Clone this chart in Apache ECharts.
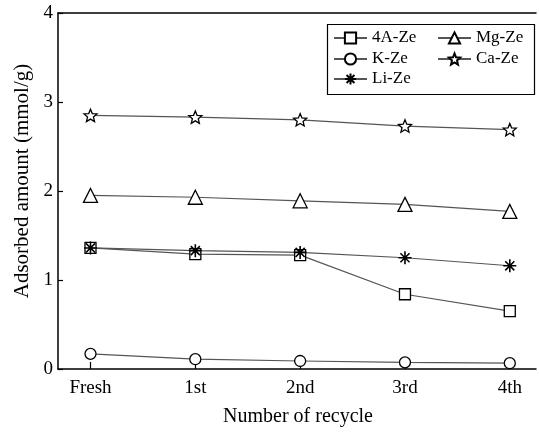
<!DOCTYPE html>
<html>
<head>
<meta charset="utf-8">
<script src="https://cdn.jsdelivr.net/npm/echarts@6/dist/echarts.min.js"></script>
<style>html,body{margin:0;padding:0;background:#fff}#c{width:539px;height:433px}</style>
</head>
<body>
<div id="c"></div>
<script>
const categories = ['Fresh', '1st', '2nd', '3rd', '4th'];
const seriesNames = ['4A-Ze', 'K-Ze', 'Li-Ze', 'Mg-Ze', 'Ca-Ze'];
const ze4A = [1.36, 1.29, 1.28, 0.84, 0.65];
const zeK = [0.17, 0.11, 0.09, 0.075, 0.065];
const zeLi = [1.36, 1.33, 1.31, 1.25, 1.16];
const zeMg = [1.95, 1.93, 1.89, 1.85, 1.77];
const zeCa = [2.85, 2.83, 2.80, 2.73, 2.69];
const yTicks = [0, 1, 2, 3, 4];

const FONT = 'Liberation Serif';
const STAR = 'path://M100,0L126,64L195,69L143,114L159,181L100,145L41,181L57,114L5,69L74,64Z';
const AST = 'path://M50,0L50,100M0,50L100,50M15,15L85,85M85,15L15,85';

const values = [ze4A, zeK, zeLi, zeMg, zeCa];
const symbols = ['rect', 'circle', AST, 'triangle', STAR];
const sizes = [11, 11, 13, 14, 13];

const chart = echarts.init(document.getElementById('c'), null, {renderer: 'canvas'});

const series = seriesNames.map((n, i) => ({
  name: n,
  type: 'line',
  data: values[i].map((v, j) => [j, v]),
  symbol: symbols[i],
  symbolSize: sizes[i],
  symbolKeepAspect: true,
  showAllSymbol: true,
  lineStyle: {color: '#555', width: 1.2},
  itemStyle: {color: '#fff', borderColor: '#000', borderWidth: i === 2 ? 1.6 : 1.3},
  z: 3 + i,
  animation: false
}));

const legendPos = [
  {name: '4A-Ze', left: 333, cy: 38},
  {name: 'K-Ze', left: 333, cy: 59},
  {name: 'Li-Ze', left: 333, cy: 79},
  {name: 'Mg-Ze', left: 437, cy: 38},
  {name: 'Ca-Ze', left: 437, cy: 59}
];

chart.setOption({
  animation: false,
  grid: {left: 58, top: 13, right: 3, bottom: 64, containLabel: false},
  xAxis: [{
    type: 'value', min: -0.31, max: 4.25,
    axisLine: {show: true, onZero: false, lineStyle: {color: '#000', width: 1.5}},
    axisTick: {show: true, inside: true, length: 7, customValues: [0, 1, 2, 3, 4], lineStyle: {color: '#000', width: 1.2}},
    axisLabel: {customValues: [0, 1, 2, 3, 4], formatter: v => categories[Math.round(v)], fontFamily: FONT, fontSize: 19, color: '#000', margin: 10},
    splitLine: {show: false}
  }, {
    type: 'value', position: 'top', min: -0.31, max: 4.25,
    axisLine: {show: true, onZero: false, lineStyle: {color: '#000', width: 1.5}},
    axisTick: {show: false}, axisLabel: {show: false}, splitLine: {show: false}
  }],
  yAxis: {
    type: 'value', min: 0, max: 4, interval: 1,
    axisLine: {show: true, onZero: false, lineStyle: {color: '#000', width: 1.5}},
    axisTick: {show: true, inside: true, length: 5, lineStyle: {color: '#000', width: 1.2}},
    axisLabel: {fontFamily: FONT, fontSize: 19, color: '#000', margin: 5, formatter: v => String(v)},
    splitLine: {show: false}
  },
  legend: legendPos.map(p => ({
    data: [p.name], left: p.left, top: p.cy - 8.5, padding: 0,
    itemWidth: 33, itemHeight: 14, itemGap: 0, selectedMode: false,
    textStyle: {fontFamily: FONT, fontSize: 17, color: '#000', lineHeight: 17}
  })),
  graphic: [
    {type: 'rect', left: 325, top: 22, shape: {width: 207, height: 70}, style: {fill: 'none', stroke: '#000', lineWidth: 1.2}, z: 0},
    {type: 'text', x: 22, y: 181, rotation: Math.PI / 2, style: {text: 'Adsorbed amount (mmol/g)', font: '21px "Liberation Serif"', fill: '#000', align: 'center', verticalAlign: 'middle'}},
    {type: 'text', x: 298, y: 417, style: {text: 'Number of recycle', font: '20px "Liberation Serif"', fill: '#000', align: 'center', verticalAlign: 'middle'}}
  ],
  series: series
});
</script>
</body>
</html>
